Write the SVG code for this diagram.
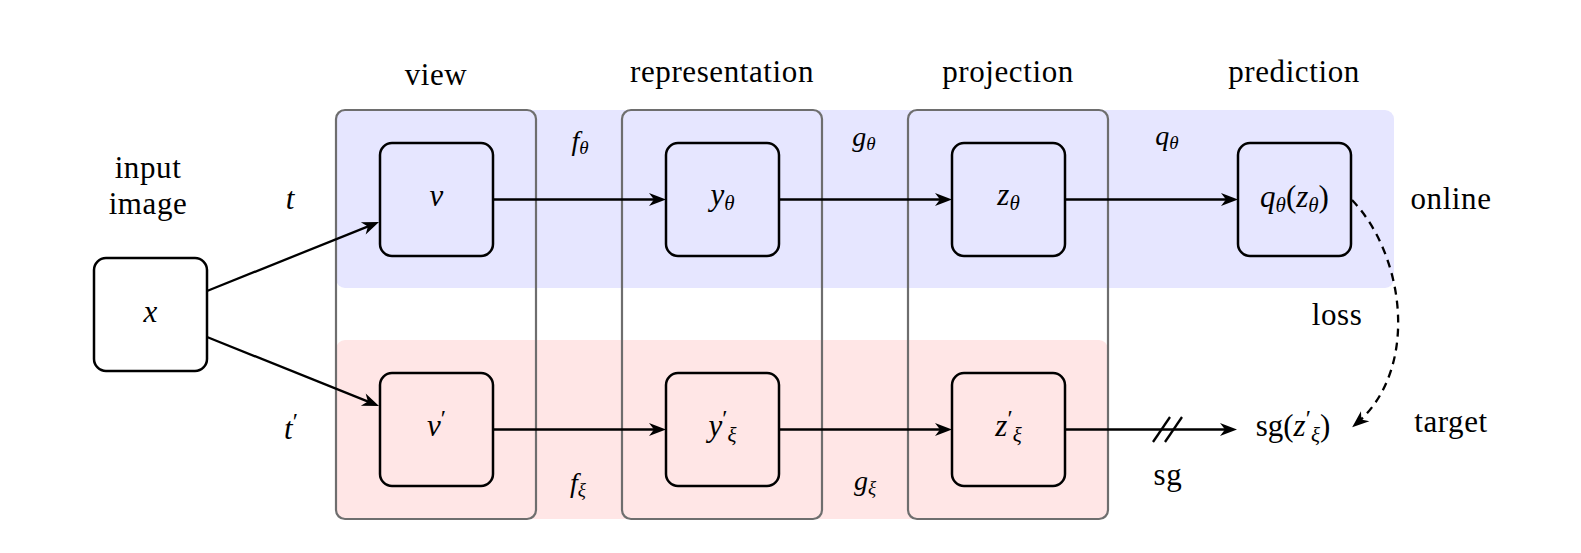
<svg xmlns="http://www.w3.org/2000/svg" width="1581" height="553" viewBox="0 0 1581 553">
<style>
.band-on{fill:#E6E6FF;stroke:none}
.band-tg{fill:#FFE6E6;stroke:none}
.cont{fill:none;stroke:#6e6e6e;stroke-width:2.2}
.node{fill:none;stroke:#000;stroke-width:2.5}
.nodew{fill:#fff;stroke:#000;stroke-width:2.5}
.arr{fill:none;stroke:#000;stroke-width:2.3;marker-end:url(#stealth)}
.dash{fill:none;stroke:#000;stroke-width:2.3;stroke-dasharray:8 6;marker-end:url(#stealth)}
.tick{fill:none;stroke:#000;stroke-width:2.3}
text{font-family:'Liberation Serif','DejaVu Serif','Times New Roman',serif;fill:#000;text-anchor:middle}
.word{font-size:31px;letter-spacing:0.6px}
.math{font-size:31px;font-style:italic}
.emath{font-size:28px;font-style:italic}
.sub{font-size:21px}
.esub{font-size:19px}
.pr{font-size:24px;font-style:normal}
.up{font-style:normal}
</style>
<defs>
<marker id="stealth" markerUnits="userSpaceOnUse" viewBox="-13 -8 19 16" refX="0" refY="0" markerWidth="19" markerHeight="16" orient="auto">
<path d="M5,0 L-12,-6.5 L-7,0 L-12,6.5 Z" fill="#000"/>
</marker>
</defs>

<g id="bands">
<rect class="band-on" x="336" y="110" width="1058" height="178" rx="9"/>
<rect class="band-tg" x="336" y="340" width="772" height="179" rx="9"/>
</g>

<g id="containers">
<g id="view-box"><rect class="cont" x="336" y="110" width="200" height="409" rx="9"/><text class="word" x="436" y="85">view</text></g>
<g id="representation-box"><rect class="cont" x="622" y="110" width="200" height="409" rx="9"/><text class="word" x="722" y="82">representation</text></g>
<g id="projection-box"><rect class="cont" x="908" y="110" width="200" height="409" rx="9"/><text class="word" x="1008" y="82">projection</text></g>
<g id="prediction-label"><text class="word" x="1294" y="82">prediction</text></g>
</g>

<g id="connectors">
<line class="arr" x1="207" y1="291" x2="374.4" y2="223.9"/>
<line class="arr" x1="207" y1="337" x2="374.4" y2="404.1"/>
<line class="arr" x1="493" y1="199.5" x2="661" y2="199.5"/>
<line class="arr" x1="779" y1="199.5" x2="947" y2="199.5"/>
<line class="arr" x1="1065" y1="199.5" x2="1233" y2="199.5"/>
<line class="arr" x1="493" y1="429.5" x2="661" y2="429.5"/>
<line class="arr" x1="779" y1="429.5" x2="947" y2="429.5"/>
<line class="arr" x1="1065" y1="429.5" x2="1232" y2="429.5"/>
<line class="tick" x1="1153" y1="442" x2="1170" y2="417"/>
<line class="tick" x1="1165" y1="442" x2="1182" y2="417"/>
<path class="dash" d="M1352,200 C1405,255 1420,370 1356,424"/>
<text class="math" x="290" y="209">t</text>
<text class="math" x="291" y="439">t<tspan class="pr" dy="-10">′</tspan></text>
<text class="emath" x="580" y="150">f<tspan class="esub" dy="4">θ</tspan></text>
<text class="emath" x="864" y="146">g<tspan class="esub" dy="4">θ</tspan></text>
<text class="emath" x="1167" y="145">q<tspan class="esub" dy="4">θ</tspan></text>
<text class="emath" x="578" y="492">f<tspan class="esub" dy="4">ξ</tspan></text>
<text class="emath" x="865" y="490">g<tspan class="esub" dy="4">ξ</tspan></text>
<text class="word" x="1168" y="485">sg</text>
<text class="word" x="1337" y="325">loss</text>
</g>

<g id="node-x">
<rect class="nodew" x="94" y="258" width="113" height="113" rx="12"/>
<text class="math" x="150.5" y="322">x</text>
<text class="word" x="148" y="178">input</text>
<text class="word" x="148" y="214">image</text>
</g>
<g id="node-v">
<rect class="node" x="380" y="143" width="113" height="113" rx="12"/>
<text class="math" x="436.5" y="206">v</text>
</g>
<g id="node-y">
<rect class="node" x="666" y="143" width="113" height="113" rx="12"/>
<text class="math" x="722.5" y="205">y<tspan class="sub" dy="5">θ</tspan></text>
</g>
<g id="node-z">
<rect class="node" x="952" y="143" width="113" height="113" rx="12"/>
<text class="math" x="1008.5" y="205">z<tspan class="sub" dy="5">θ</tspan></text>
</g>
<g id="node-q">
<rect class="node" x="1238" y="143" width="113" height="113" rx="12"/>
<text class="math" x="1294.5" y="207">q<tspan class="sub" dy="5">θ</tspan><tspan class="up" dy="-5">(</tspan>z<tspan class="sub" dy="5">θ</tspan><tspan class="up" dy="-5">)</tspan></text>
</g>
<g id="node-v2">
<rect class="node" x="380" y="373" width="113" height="113" rx="12"/>
<text class="math" x="436.5" y="436">v<tspan class="pr" dy="-10">′</tspan></text>
</g>
<g id="node-y2">
<rect class="node" x="666" y="373" width="113" height="113" rx="12"/>
<text class="math" x="722.5" y="436">y<tspan class="pr" dy="-10">′</tspan><tspan class="sub" dy="16">ξ</tspan></text>
</g>
<g id="node-z2">
<rect class="node" x="952" y="373" width="113" height="113" rx="12"/>
<text class="math" x="1008.5" y="436">z<tspan class="pr" dy="-10">′</tspan><tspan class="sub" dy="16">ξ</tspan></text>
</g>
<g id="node-sg">
<text class="math" x="1293" y="436"><tspan class="up">sg(</tspan>z<tspan class="pr" dy="-10">′</tspan><tspan class="sub" dy="16">ξ</tspan><tspan class="up" dy="-6">)</tspan></text>
</g>
<g id="row-labels">
<text class="word" x="1451" y="209">online</text>
<text class="word" x="1451" y="432">target</text>
</g>
</svg>
